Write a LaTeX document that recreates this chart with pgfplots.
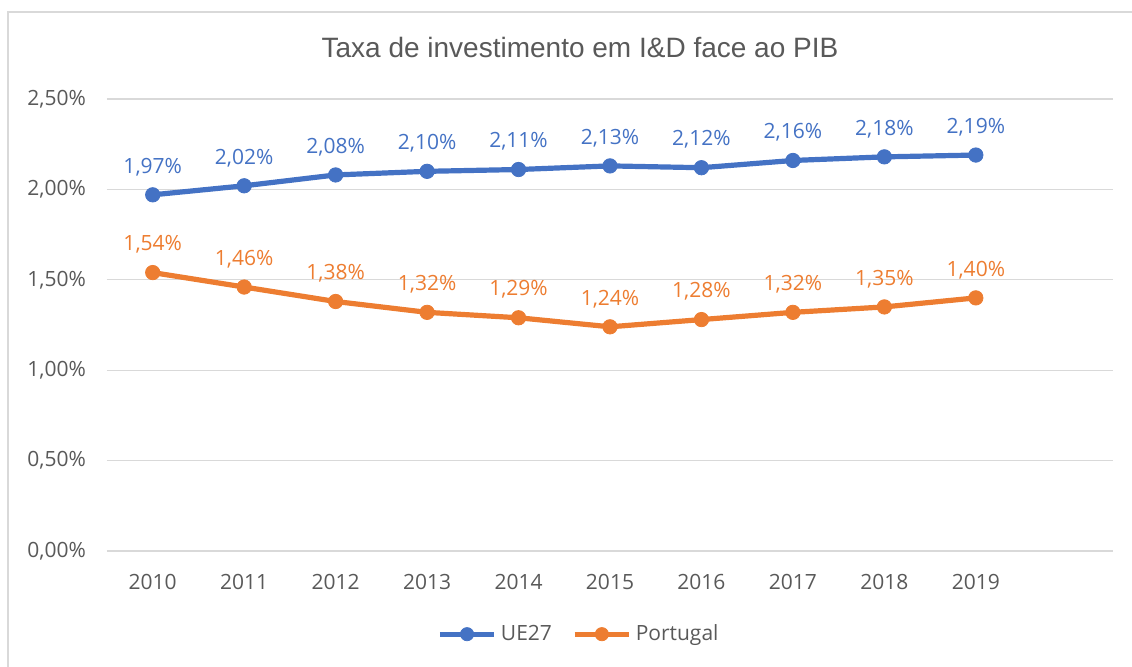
\documentclass[border=0pt]{standalone}
\usepackage{fontspec}
\setmainfont{Open Sans}
\newfontfamily\titlefont{Liberation Sans}
\usepackage{pgfplots}
\pgfplotsset{compat=1.18}
\definecolor{ueBlue}{HTML}{4472C4}
\definecolor{ptOrange}{HTML}{ED7D31}
\definecolor{txtGray}{HTML}{595959}
\definecolor{gridGray}{HTML}{D9D9D9}
\begin{document}
\begin{tikzpicture}
\begin{axis}[
  at={(0,0)}, anchor=south west, scale only axis,
  width=503pt, height=226pt,
  xmin=-0.5, xmax=10.5, ymin=0, ymax=2.5,
  xtick={0,...,9}, xticklabels={2010,2011,2012,2013,2014,2015,2016,2017,2018,2019},
  ytick={0,0.5,...,2.5},
  yticklabel={\pgfmathprintnumber[fixed,fixed zerofill,precision=2,use comma,assume math mode=true]{\tick}\%},
  tick label style={font=\fontsize{10.5}{12}\selectfont, text=txtGray},
  xticklabel style={yshift=-8pt},
  yticklabel style={xshift=-7pt},
  axis line style={draw=none}, tick style={draw=none},
  axis x line*=bottom,
  ymajorgrids, grid style={gridGray, line width=0.6pt},
  legend style={draw=none, fill=none, at={(0.47,-0.184)}, anchor=center,
    font=\fontsize{10.5}{12}\selectfont, text=txtGray, column sep=8pt,
    /tikz/every odd column/.style={column sep=0pt}},
  legend columns=2,
  legend image code/.code={\draw[mark repeat=2, mark phase=2, mark size=3.3pt] plot coordinates {(0cm,0cm) (0.48cm,0cm) (0.96cm,0cm)};},
  nodes near coords={\pgfmathprintnumber[fixed,fixed zerofill,precision=2,use comma,assume math mode=true]{\pgfplotspointmeta}\%},
  every node near coord/.append style={font=\fontsize{10.5}{12}\selectfont, yshift=6pt},
  clip=false,
]
\addplot[color=ueBlue, line width=2.6pt, mark=*, mark size=3.6pt, mark options={line width=0.4pt}, nodes near coords style={text=ueBlue}] coordinates {
  (0,1.97) (1,2.02) (2,2.08) (3,2.10) (4,2.11) (5,2.13) (6,2.12) (7,2.16) (8,2.18) (9,2.19)};
\addlegendentry{UE27}
\addplot[color=ptOrange, line width=2.6pt, mark=*, mark size=3.6pt, mark options={line width=0.4pt}, nodes near coords style={text=ptOrange}] coordinates {
  (0,1.54) (1,1.46) (2,1.38) (3,1.32) (4,1.29) (5,1.24) (6,1.28) (7,1.32) (8,1.35) (9,1.40)};
\addlegendentry{Portugal}
\end{axis}
\begin{scope}[x=0.5pt, y=-0.5pt, shift={(-53.5pt,275.5pt)}]
  \useasboundingbox (0,0) rectangle (1132,666);
  \draw[gridGray, line width=0.8pt] (8,680) -- (8,12) -- (1140,12);
  \node[font=\titlefont\fontsize{14}{16}\selectfont, text=txtGray] at (580,47) {Taxa de investimento em I\&D face ao PIB};
\end{scope}
\end{tikzpicture}
\end{document}
